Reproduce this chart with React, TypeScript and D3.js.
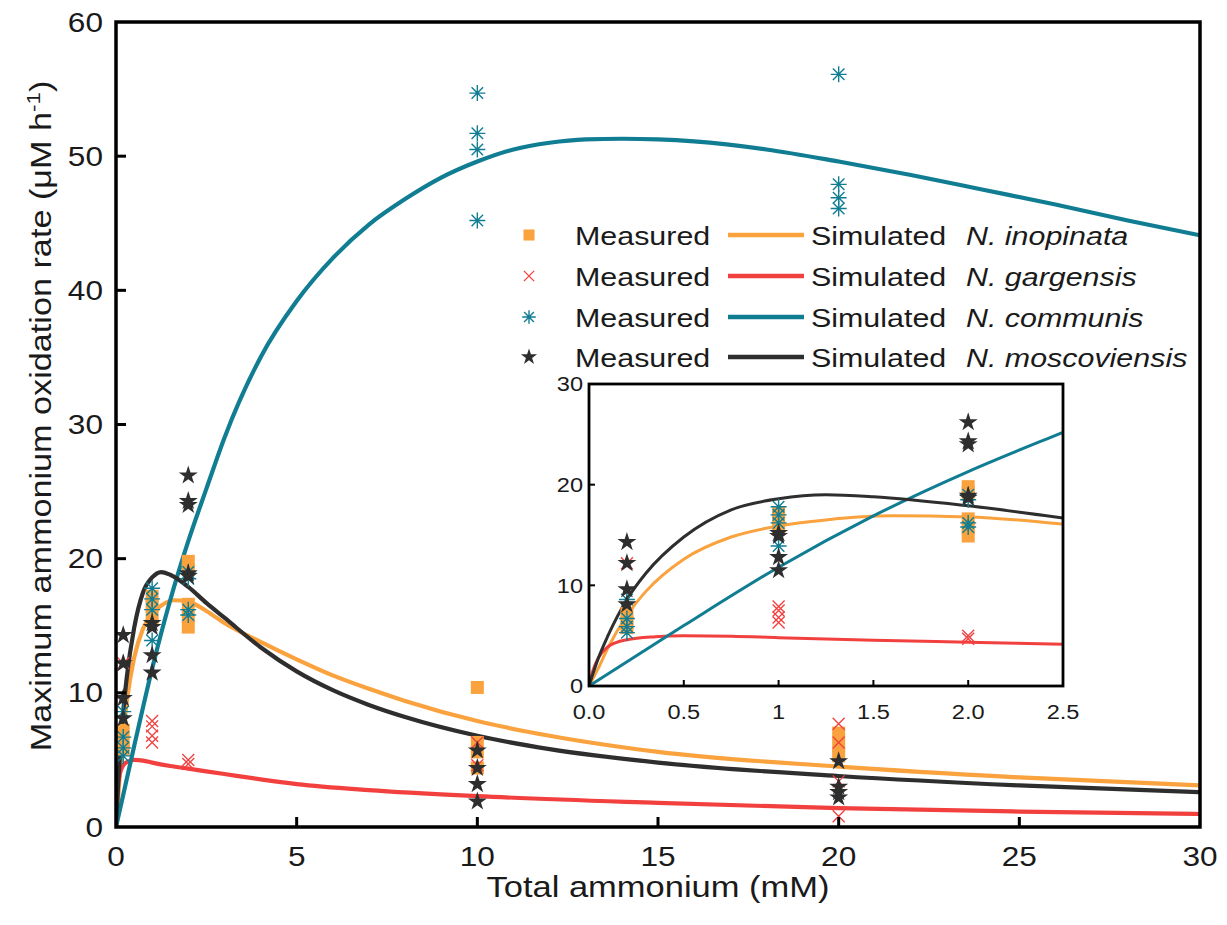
import React from "react";
import * as d3 from "d3";

// ---------- data ----------
const xTicksMain = [0, 5, 10, 15, 20, 25, 30];
const yTicksMain = [0, 10, 20, 30, 40, 50, 60];
const xTicksInset = [0, 0.5, 1, 1.5, 2, 2.5];
const xTickLabelsInset = ["0.0", "0.5", "1", "1.5", "2.0", "2.5"];
const yTicksInset = [0, 10, 20, 30];

const inopinataMeasured: [number, number][] = [
  [0.2, 7.2], [0.2, 6.3], [0.2, 5.8],
  [1, 17.2], [1, 16.5], [1, 15.6],
  [2, 19.8], [2, 19.2], [2, 16.6], [2, 15.7], [2, 14.9],
  [10, 10.4], [10, 6.3], [10, 5.6], [10, 4.4],
  [20, 7.0], [20, 6.1], [20, 5.3],
];
const gargensisMeasured: [number, number][] = [
  [0.2, 12.2],
  [1, 7.9], [1, 7.5], [1, 6.8], [1, 6.3],
  [2, 5.0], [2, 4.7],
  [10, 6.3], [10, 4.6],
  [20, 7.7], [20, 6.3], [20, 3.4], [20, 0.8],
];
const communisMeasured: [number, number][] = [
  [0.2, 8.6], [0.2, 6.7], [0.2, 5.9], [0.2, 5.3],
  [1, 17.8], [1, 17.0], [1, 16.2], [1, 13.9],
  [2, 19.0], [2, 18.5], [2, 16.2], [2, 15.8],
  [10, 54.7], [10, 51.7], [10, 50.5], [10, 45.2],
  [20, 56.1], [20, 47.9], [20, 46.9], [20, 46.1],
];
const moscoviensisMeasured: [number, number][] = [
  [0.2, 14.3], [0.2, 12.2], [0.2, 9.6], [0.2, 8.1],
  [1, 15.2], [1, 14.9], [1, 12.8], [1, 11.5],
  [2, 26.2], [2, 24.3], [2, 24.0], [2, 18.9], [2, 18.7],
  [10, 5.7], [10, 4.4], [10, 3.2], [10, 1.9],
  [20, 4.9], [20, 3.0], [20, 2.6], [20, 2.2],
];

const inopinataSimulated: [number, number][] = [
  [0, 0], [0.05, 1.8], [0.1, 3.8], [0.2, 7.0], [0.3, 9.4], [0.5, 12.6], [0.75, 14.8],
  [1, 15.9], [1.25, 16.5], [1.6, 16.9], [2, 16.8], [2.5, 16.1], [3, 15.2], [4, 13.8],
  [5, 12.5], [6, 11.3], [7, 10.3], [8, 9.4], [10, 7.9], [12, 6.8], [15, 5.6],
  [20, 4.5], [25, 3.7], [30, 3.1],
];
const gargensisSimulated: [number, number][] = [
  [0, 0], [0.02, 1.5], [0.05, 2.8], [0.1, 3.9], [0.2, 4.6], [0.35, 4.9], [0.5, 5.0],
  [0.75, 4.95], [1, 4.8], [1.5, 4.55], [2, 4.35], [2.5, 4.15], [3, 3.95], [4, 3.55],
  [5, 3.2], [7, 2.75], [10, 2.3], [15, 1.8], [20, 1.4], [25, 1.15], [30, 0.97],
];
const communisSimulated: [number, number][] = [
  [0, 0], [0.5, 6.0], [1, 11.8], [1.5, 16.9], [2, 21.3], [2.5, 25.2], [3, 29.0],
  [4, 35.0], [5, 39.2], [6, 42.4], [7, 44.9], [8, 46.8], [9, 48.4], [10, 49.6],
  [11, 50.5], [12, 51.0], [13, 51.25], [14, 51.3], [15, 51.25], [16, 51.1],
  [18, 50.5], [20, 49.6], [22, 48.6], [24, 47.5], [26, 46.4], [28, 45.2], [30, 44.1],
];
const moscoviensisSimulated: [number, number][] = [
  [0, 0], [0.05, 2.8], [0.1, 5.0], [0.2, 8.6], [0.3, 11.2], [0.5, 14.8], [0.75, 17.5],
  [1, 18.6], [1.25, 19.0], [1.5, 18.8], [2, 17.9], [2.5, 16.7], [3, 15.6], [4, 13.4],
  [5, 11.6], [6, 10.2], [7, 9.1], [8, 8.2], [10, 6.8], [12, 5.8], [15, 4.8],
  [20, 3.8], [25, 3.1], [30, 2.6],
];

const speciesNames = ["N. inopinata", "N. gargensis", "N. communis", "N. moscoviensis"];

// ---------- styles ----------
const C_OR = "#F9A23E";
const C_RD = "#F2403F";
const C_TL = "#107D93";
const C_BK = "#2E2E2E";
const FONT = "'Liberation Sans', Arial, Helvetica, sans-serif";

type Marker = "square" | "x" | "asterisk" | "star";

function starPath(R: number) {
  const r = R * 0.382;
  const pts: string[] = [];
  for (let i = 0; i < 10; i++) {
    const a = -Math.PI / 2 + (i * Math.PI) / 5;
    const rr = i % 2 === 0 ? R : r;
    pts.push(`${(rr * Math.cos(a)).toFixed(2)},${(rr * Math.sin(a)).toFixed(2)}`);
  }
  return "M" + pts.join("L") + "Z";
}

function MarkerGlyph({ type, cx, cy, color, k = 1 }: { type: Marker; cx: number; cy: number; color: string; k?: number }) {
  if (type === "square") {
    const s = 13 * k;
    return <rect x={cx - s / 2} y={cy - s / 2} width={s} height={s} fill={color} />;
  }
  if (type === "x") {
    const h = 6 * k;
    return (
      <path
        d={`M${cx - h},${cy - h}L${cx + h},${cy + h}M${cx - h},${cy + h}L${cx + h},${cy - h}`}
        stroke={color}
        strokeWidth={1.3}
        fill="none"
      />
    );
  }
  if (type === "asterisk") {
    const h = 8 * k;
    const d = h * 0.72;
    return (
      <path
        d={`M${cx},${cy - h}L${cx},${cy + h}M${cx - h},${cy}L${cx + h},${cy}M${cx - d},${cy - d}L${cx + d},${cy + d}M${cx - d},${cy + d}L${cx + d},${cy - d}`}
        stroke={color}
        strokeWidth={1.4}
        fill="none"
      />
    );
  }
  return <path d={starPath(10 * k)} transform={`translate(${cx},${cy})`} fill={color} />;
}

// text horizontally widened like the reference's type
function T({
  x,
  y,
  size,
  sx = 1.17,
  anchor = "start",
  italic = false,
  children,
}: {
  x: number;
  y: number;
  size: number;
  sx?: number;
  anchor?: "start" | "middle" | "end";
  italic?: boolean;
  children: React.ReactNode;
}) {
  return (
    <text
      transform={`translate(${x},${y}) scale(${sx},1)`}
      textAnchor={anchor}
      fontSize={size}
      fontStyle={italic ? "italic" : "normal"}
      fill="#1a1a1a"
    >
      {children}
    </text>
  );
}

const seriesList: { measured: [number, number][]; simulated: [number, number][]; color: string; marker: Marker }[] = [
  { measured: inopinataMeasured, simulated: inopinataSimulated, color: C_OR, marker: "square" },
  { measured: gargensisMeasured, simulated: gargensisSimulated, color: C_RD, marker: "x" },
  { measured: communisMeasured, simulated: communisSimulated, color: C_TL, marker: "asterisk" },
  { measured: moscoviensisMeasured, simulated: moscoviensisSimulated, color: C_BK, marker: "star" },
];

export default function App() {
  const x = d3.scaleLinear().domain([0, 30]).range([116, 1200]);
  const y = d3.scaleLinear().domain([0, 60]).range([827, 22]);
  const xi = d3.scaleLinear().domain([0, 2.5]).range([589, 1063]);
  const yi = d3.scaleLinear().domain([0, 30]).range([686, 384]);

  const lineMain = d3
    .line<[number, number]>()
    .x((d) => x(d[0]))
    .y((d) => y(d[1]))
    .curve(d3.curveMonotoneX);
  const lineInset = d3
    .line<[number, number]>()
    .x((d) => xi(d[0]))
    .y((d) => yi(d[1]))
    .curve(d3.curveMonotoneX);

  const legendRows = [235, 276, 317, 357];

  return (
    <svg
      width={1227}
      height={925}
      style={{ position: "absolute", left: 0, top: 0, background: "#fff" }}
      fontFamily={FONT}
    >
      <defs>
        <clipPath id="clipMain">
          <rect x={116} y={22} width={1084} height={805} />
        </clipPath>
        <clipPath id="clipInset">
          <rect x={589} y={384} width={474} height={302} />
        </clipPath>
      </defs>
      <rect x={0} y={0} width={1227} height={925} fill="#fff" />

      {/* main curves and points */}
      <g clipPath="url(#clipMain)">
        {seriesList.map((s, i) => (
          <path key={i} d={lineMain(s.simulated) || ""} fill="none" stroke={s.color} strokeWidth={4.2} />
        ))}
        {seriesList.map((s, i) => (
          <g key={"m" + i}>
            {s.measured.map((p, j) => (
              <MarkerGlyph key={j} type={s.marker} cx={x(p[0])} cy={y(p[1])} color={s.color} />
            ))}
          </g>
        ))}
      </g>

      {/* main axes frame */}
      <rect x={116} y={22} width={1084} height={805} fill="none" stroke="#000" strokeWidth={3.5} />
      {xTicksMain.map((t) => (
        <g key={"xt" + t}>
          {t > 0 && t < 30 && <line x1={x(t)} x2={x(t)} y1={827} y2={817} stroke="#000" strokeWidth={3} />}
          <T x={x(t)} y={866} size={27} anchor="middle">
            {t}
          </T>
        </g>
      ))}
      {yTicksMain.map((t) => (
        <g key={"yt" + t}>
          {t > 0 && t < 60 && <line x1={116} x2={126} y1={y(t)} y2={y(t)} stroke="#000" strokeWidth={3} />}
          <T x={103} y={y(t) + 9.5} size={27} anchor="end">
            {t}
          </T>
        </g>
      ))}
      <T x={658} y={897} size={29} sx={1.19} anchor="middle">
        Total ammonium (mM)
      </T>
      <text
        transform="translate(51,416) rotate(-90) scale(1.18,1)"
        textAnchor="middle"
        fontSize={29}
        fill="#1a1a1a"
      >
        Maximum ammonium oxidation rate (μM h
        <tspan dy={-11} fontSize={19}>-1</tspan>
        <tspan dy={11}>)</tspan>
      </text>

      {/* legend */}
      {seriesList.map((s, i) => (
        <g key={"lg" + i}>
          <MarkerGlyph type={s.marker} cx={529} cy={legendRows[i]} color={s.color} k={0.85} />
          <T x={575} y={legendRows[i] + 9.5} size={26}>
            Measured
          </T>
          <line x1={728} x2={804} y1={legendRows[i]} y2={legendRows[i]} stroke={s.color} strokeWidth={4.5} />
          <T x={811} y={legendRows[i] + 9.5} size={26}>
            Simulated
          </T>
          <T x={966} y={legendRows[i] + 9.5} size={26} italic>
            {speciesNames[i]}
          </T>
        </g>
      ))}

      {/* inset */}
      <rect x={589} y={384} width={474} height={302} fill="#fff" />
      <g clipPath="url(#clipInset)">
        {seriesList.map((s, i) => (
          <path key={i} d={lineInset(s.simulated) || ""} fill="none" stroke={s.color} strokeWidth={3} />
        ))}
        {seriesList.map((s, i) => (
          <g key={"im" + i}>
            {s.measured
              .filter((p) => p[0] <= 2.5)
              .map((p, j) => (
                <MarkerGlyph key={j} type={s.marker} cx={xi(p[0])} cy={yi(p[1])} color={s.color} />
              ))}
          </g>
        ))}
      </g>
      <rect x={589} y={384} width={474} height={302} fill="none" stroke="#000" strokeWidth={2.8} />
      {xTicksInset.map((t, i) => (
        <g key={"ixt" + t}>
          {t > 0 && t < 2.5 && <line x1={xi(t)} x2={xi(t)} y1={686} y2={680} stroke="#000" strokeWidth={2} />}
          <T x={xi(t)} y={719} size={20.5} sx={1.15} anchor="middle">
            {xTickLabelsInset[i]}
          </T>
        </g>
      ))}
      {yTicksInset.map((t) => (
        <g key={"iyt" + t}>
          {t > 0 && t < 30 && <line x1={589} x2={595} y1={yi(t)} y2={yi(t)} stroke="#000" strokeWidth={2} />}
          <T x={583} y={yi(t) + 7.3} size={20.5} sx={1.15} anchor="end">
            {t}
          </T>
        </g>
      ))}
    </svg>
  );
}
